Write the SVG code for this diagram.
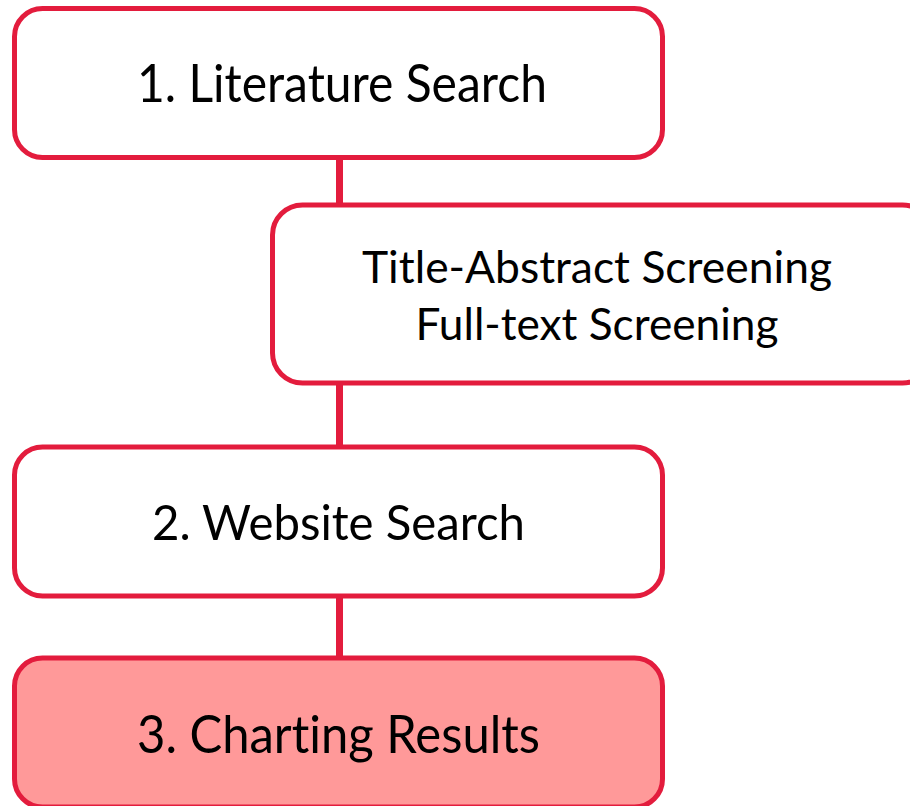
<svg xmlns="http://www.w3.org/2000/svg" width="910" height="806" viewBox="0 0 910 806">
<style>
.box{fill:#ffffff;stroke:#e31c3d;stroke-width:5}
.hl{fill:#ff9999}
.conn{stroke:#e31c3d;stroke-width:7;fill:none}
text{font-family:Lato,"Open Sans","DejaVu Sans",sans-serif;fill:#000000;text-anchor:middle;font-variant-ligatures:none;font-feature-settings:"liga" 0,"clig" 0}
</style>
<rect width="910" height="806" fill="#ffffff"/>
<g id="connectors">
<line class="conn" x1="339.5" y1="158" x2="339.5" y2="658"/>
</g>
<g id="node-literature">
<rect class="box" x="14.5" y="8.5" width="648" height="149" rx="28"/>
<text x="342" y="102" font-size="52" textLength="410" lengthAdjust="spacingAndGlyphs">1. Literature Search</text>
</g>
<g id="node-screening">
<rect class="box" x="272.5" y="205" width="660" height="178" rx="30"/>
<text x="597" y="283" font-size="45" textLength="470" lengthAdjust="spacingAndGlyphs">Title-Abstract Screening</text>
<text x="597" y="340" font-size="45" textLength="363" lengthAdjust="spacingAndGlyphs">Full-text Screening</text>
</g>
<g id="node-website">
<rect class="box" x="14.5" y="447" width="648" height="149" rx="28"/>
<text x="338.5" y="540" font-size="49" textLength="373" lengthAdjust="spacingAndGlyphs">2. Website Search</text>
</g>
<g id="node-charting">
<rect class="box hl" x="14.5" y="658" width="648" height="149" rx="28"/>
<text x="338.5" y="753" font-size="52" textLength="403" lengthAdjust="spacingAndGlyphs">3. Charting Results</text>
</g>
</svg>
